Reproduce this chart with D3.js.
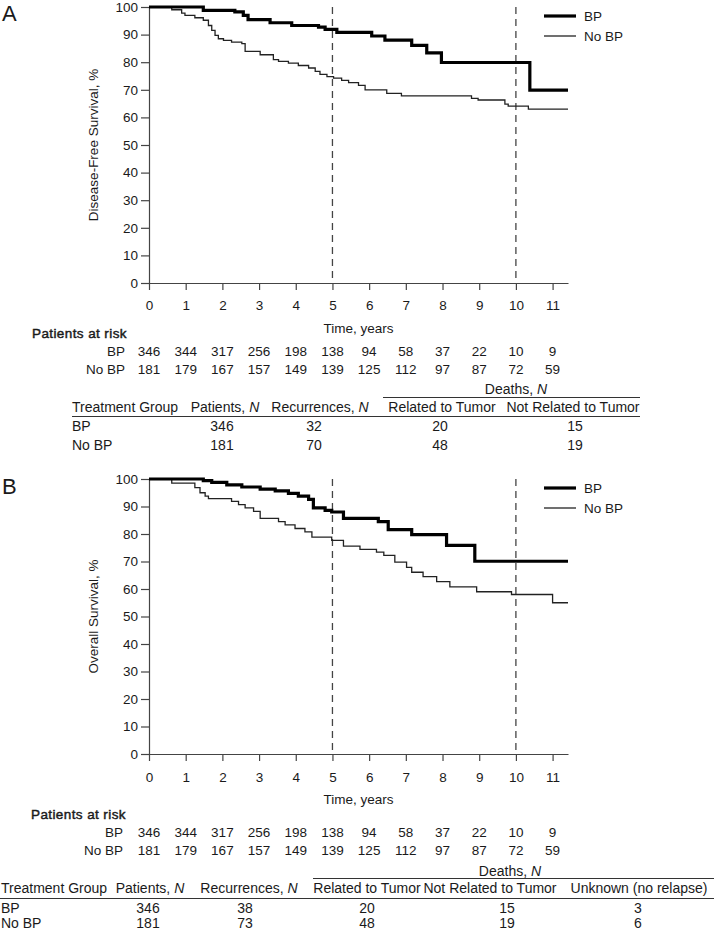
<!DOCTYPE html>
<html><head><meta charset="utf-8">
<script src="https://cdn.jsdelivr.net/npm/d3@7/dist/d3.min.js"></script>
<style>
body{margin:0;background:#fff}
text{font-family:"Liberation Sans",Arial,Helvetica,sans-serif;fill:#1a1a1a}
</style>
</head><body>
<svg id="chart" width="714" height="932"></svg>
<script>
// ---------------- data ----------------
const years = [0,1,2,3,4,5,6,7,8,9,10,11];
const yTicks = [0,10,20,30,40,50,60,70,80,90,100];
const markerYears = [5,10];
const groups = ["BP","No BP"];
const atRiskBP   = [346,344,317,256,198,138,94,58,37,22,10,9];
const atRiskNoBP = [181,179,167,157,149,139,125,112,97,87,72,59];

// Disease-free survival (panel A)
const dfsBpTime = [0,1.48,2.34,2.57,2.7,3.3,3.89,4.62,4.8,5.12,6.07,6.43,7.16,7.57,7.97,10.38,11.42];
const dfsBpSurv = [100,98.8,98.2,97.0,95.4,94.3,93.3,92.7,91.9,90.8,89.5,88.0,86.1,83.4,79.9,69.9,69.9];
const dfsNoBpTime = [0,0.62,0.89,0.98,1.25,1.48,1.62,1.71,1.8,1.89,2.03,2.25,2.53,2.62,3.03,3.39,3.53,3.8,4.07,4.35,4.53,4.66,4.85,5.03,5.25,5.44,5.71,5.89,6.48,6.88,8.79,8.97,9.7,9.79,10.34,11.42];
const dfsNoBpSurv = [100,99,97.8,97,96.1,95.2,93.3,91.5,89.7,88.5,87.9,87.3,86.7,83.9,82.7,80.9,80.3,79.7,78.8,77.9,76.7,75.6,74.8,74.2,73.4,72.6,71.6,70.0,68.7,67.8,66.9,66.3,64.8,64.1,63.0,63.0];

// Overall survival (panel B)
const osBpTime = [0,1.48,1.71,2.12,2.53,3.03,3.44,3.8,4.07,4.35,4.48,4.8,4.98,5.3,6.25,6.52,7.16,8.11,8.88,11.42];
const osBpSurv = [100,99.4,98.8,97.9,97.1,96.3,95.7,94.8,93.8,92.6,89.5,88.6,88.0,85.7,84.5,81.6,79.8,75.9,70.1,70.1];
const osNoBpTime = [0,0.62,1.25,1.39,1.53,1.62,2.25,2.44,2.62,2.85,3.03,3.53,3.71,3.98,4.25,4.44,4.98,5.3,5.75,6.2,6.4,6.7,7.02,7.16,7.47,7.84,8.2,8.93,9.88,11.0,11.42];
const osNoBpSurv = [100,98.5,96.9,95.0,93.8,92.9,91.9,90.7,89.5,88.2,85.7,84.5,83.3,82.0,80.8,78.9,77.7,75.6,74.4,73.4,72.2,69.8,67.9,66.1,64.5,62.7,60.8,59.0,58.0,55.0,55.0];

// Tables
const tableHeadersA = ["Treatment Group","Patients, N","Recurrences, N","Related to Tumor","Not Related to Tumor"];
const tableRowsA = [["BP",346,32,20,15],["No BP",181,70,48,19]];
const tableHeadersB = ["Treatment Group","Patients, N","Recurrences, N","Related to Tumor","Not Related to Tumor","Unknown (no relapse)"];
const tableRowsB = [["BP",346,38,20,15,3],["No BP",181,73,48,19,6]];
const deathsHeader = "Deaths, N";

// ---------------- layout ----------------
const svg = d3.select("#chart");
const X0 = 149, X1 = 568, XMAX = 11.42;
const FS = 13.5;

const panels = [
  {letter:"A", letterY:21, title:"Disease-Free Survival, %", yTop:7, yBot:283, tickPad:10,
   timeY:333, patY:338, bpY:356, nbY:374, riskLabelX:125, patX:32, legY:[16,36],
   series:[[dfsBpTime,dfsBpSurv],[dfsNoBpTime,dfsNoBpSurv]],
   table:{headers:tableHeadersA, rows:tableRowsA, left:72, right:640,
     hx:[72,225,320,442,573], vx:[72,222,314,440,575],
     deathsX:516, deathsY:394, lineTop:397.5, lineTopX:[383,640], headY:412, lineMid:416.5, rowY:[431,450]}},
  {letter:"B", letterY:494, title:"Overall Survival, %", yTop:479, yBot:754, tickPad:11,
   timeY:804, patY:819, bpY:837, nbY:855, riskLabelX:123, patX:31, legY:[488,508],
   series:[[osBpTime,osBpSurv],[osNoBpTime,osNoBpSurv]],
   table:{headers:tableHeadersB, rows:tableRowsB, left:0, right:714,
     hx:[1,150,249,367,490,639], vx:[1,148,245,367,507,638],
     deathsX:510, deathsY:876, lineTop:878.5, lineTopX:[313,714], headY:893, lineMid:898.5, rowY:[913,928]}}
];

function italicN(sel, str){
  const idx = str.lastIndexOf(", N");
  if(idx>=0 && idx===str.length-3){
    sel.append("tspan").text(str.slice(0,idx+2));
    sel.append("tspan").attr("font-style","italic").text("N");
  } else sel.text(str);
}

panels.forEach(p=>{
  const x = d3.scaleLinear().domain([0,XMAX]).range([X0,X1]);
  const y = d3.scaleLinear().domain([0,100]).range([p.yBot,p.yTop]);
  const g = svg.append("g");

  // panel letter
  g.append("text").attr("x",2).attr("y",p.letterY).attr("font-size",22).attr("font-weight",300).text(p.letter);

  // axes
  const ya = g.append("g").attr("transform",`translate(${X0},0)`)
    .call(d3.axisLeft(y).tickValues(yTicks).tickSize(8).tickPadding(3).tickSizeOuter(0));
  const xa = g.append("g").attr("transform",`translate(0,${p.yBot})`)
    .call(d3.axisBottom(x).tickValues(years).tickSize(7).tickPadding(p.tickPad).tickSizeOuter(0));
  [ya,xa].forEach(a=>{
    a.selectAll("path,line").attr("stroke","#444").attr("stroke-width",1.2);
    a.selectAll("text").attr("font-size",FS).attr("fill","#1a1a1a").attr("font-family",null);
  });

  // y title
  g.append("text").attr("transform",`translate(93,${(p.yTop+p.yBot)/2}) rotate(-90)`)
    .attr("text-anchor","middle").attr("dy","0.35em").attr("font-size",FS).text(p.title);
  // x title
  g.append("text").attr("x",(X0+X1)/2).attr("y",p.timeY).attr("text-anchor","middle").attr("font-size",FS).text("Time, years");

  // dashed markers
  g.selectAll(".mk").data(markerYears).enter().append("line")
    .attr("x1",d=>x(d)).attr("x2",d=>x(d)).attr("y1",y(100)).attr("y2",y(0))
    .attr("stroke","#444").attr("stroke-width",1.3).attr("stroke-dasharray","7,5");

  // curves
  const line = d3.line().x(d=>x(d[0])).y(d=>y(d[1])).curve(d3.curveStepAfter);
  const styles = [{w:3.2,c:"#000"},{w:1.3,c:"#222"}];
  p.series.slice().reverse().forEach((s,ri)=>{
    const i = p.series.length-1-ri;
    const pts = s[0].map((t,k)=>[t,s[1][k]]);
    g.append("path").attr("d",line(pts)).attr("fill","none")
      .attr("stroke",styles[i].c).attr("stroke-width",styles[i].w).attr("stroke-linejoin","miter");
  });

  // legend
  groups.forEach((gname,i)=>{
    g.append("line").attr("x1",544).attr("x2",576).attr("y1",p.legY[i]).attr("y2",p.legY[i])
      .attr("stroke",styles[i].c).attr("stroke-width",styles[i].w);
    g.append("text").attr("x",584).attr("y",p.legY[i]).attr("dy","0.35em").attr("font-size",FS).text(gname);
  });

  // patients at risk
  g.append("text").attr("x",p.patX).attr("y",p.patY).attr("font-size",FS)
    .attr("stroke","#1a1a1a").attr("stroke-width",0.45).attr("letter-spacing",0.4).text("Patients at risk");
  [[atRiskBP,p.bpY],[atRiskNoBP,p.nbY]].forEach(([arr,yy],i)=>{
    g.append("text").attr("x",p.riskLabelX).attr("y",yy).attr("text-anchor","end").attr("font-size",FS).text(groups[i]);
    g.selectAll(null).data(arr).enter().append("text")
      .attr("x",(d,k)=>x(years[k])).attr("y",yy).attr("text-anchor","middle").attr("font-size",FS).text(d=>d);
  });

  // table
  const T = p.table, TFS = 14;
  const dt = g.append("text").attr("x",T.deathsX).attr("y",T.deathsY).attr("text-anchor","middle").attr("font-size",TFS);
  italicN(dt, deathsHeader);
  g.append("line").attr("x1",T.lineTopX[0]).attr("x2",T.lineTopX[1]).attr("y1",T.lineTop).attr("y2",T.lineTop).attr("stroke","#333").attr("stroke-width",1.2);
  T.headers.forEach((h,i)=>{
    const t = g.append("text").attr("x",T.hx[i]).attr("y",T.headY).attr("font-size",TFS)
      .attr("text-anchor", i===0?"start":"middle");
    italicN(t,h);
  });
  g.append("line").attr("x1",T.left).attr("x2",T.right).attr("y1",T.lineMid).attr("y2",T.lineMid).attr("stroke","#333").attr("stroke-width",1.2);
  T.rows.forEach((r,ri)=>{
    r.forEach((v,ci)=>{
      g.append("text").attr("x",T.vx[ci]).attr("y",T.rowY[ri]).attr("font-size",TFS)
        .attr("text-anchor", ci===0?"start":"middle").text(v);
    });
  });
});
</script>
</body></html>
